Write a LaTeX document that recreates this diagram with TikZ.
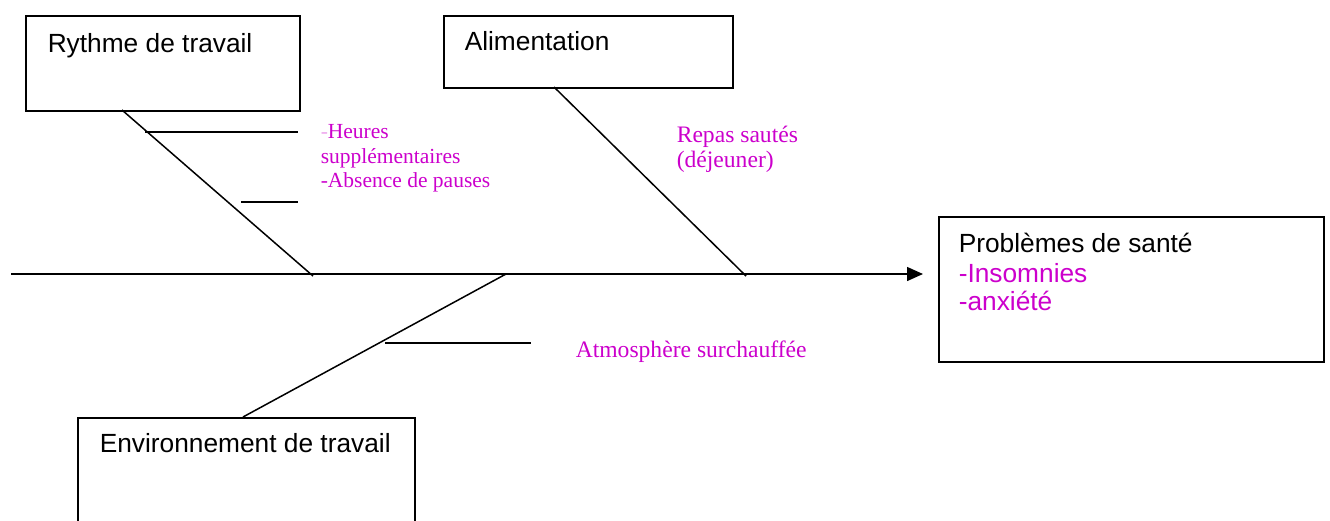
\documentclass[tikz,border=0pt]{standalone}
\usepackage{fontspec}
\setmainfont{Liberation Serif}
\newfontfamily\arialfont{Liberation Sans}
\usetikzlibrary{arrows.meta,calc}
\definecolor{pinktext}{RGB}{204,0,204}
\begin{document}
\begin{tikzpicture}[x=1pt,y=-1pt,line width=1.5pt,
  box/.style={draw,line width=1.5pt,rectangle,inner sep=0pt,anchor=north west},
  blabel/.style={anchor=base west,inner sep=0pt,font=\arialfont\fontsize{26.3}{30}\selectfont},
  plabel/.style={anchor=base west,inner sep=0pt,text=pinktext,font=\fontsize{21.5}{24.5}\selectfont},
  qlabel/.style={anchor=base west,inner sep=0pt,text=pinktext,font=\fontsize{23.6}{25}\selectfont},
  branch/.style={draw,line width=1.5pt},
]
\clip (0,0) rectangle (1330,520);
\fill[white] (0,0) rectangle (1330,520);
% boxes
\node[box,minimum width=274pt,minimum height=95pt] (rb) at (25,15) {};
\node[box,minimum width=289pt,minimum height=72pt] (ab) at (443,15) {};
\node[box,minimum width=385pt,minimum height=145pt] (pb) at (938,216) {};
\node[box,minimum width=337pt,minimum height=130pt] (eb) at (77,417) {};
% box labels
\node[blabel] (rt) at (47,52) {Rythme de travail};
\node[blabel] (at) at (464,50) {Alimentation};
\node[blabel] (pt) at (958,252) {Problèmes de santé};
\node[blabel,text=pinktext] (p1) at (958,282) {-Insomnies};
\node[blabel,text=pinktext] (p2) at (958,310) {-anxiété};
\node[blabel] (et) at (99,452) {Environnement de travail};
% cause labels
\node[plabel] (h1) at (320,138) {{\color{pinktext!35}-}Heures};
\node[plabel] (h2) at (320,163) {supplémentaires};
\node[plabel] (h3) at (320,187) {-Absence de pauses};
\node[qlabel] (r1) at (676,142) {Repas sautés};
\node[qlabel] (r2) at (676,167) {(déjeuner)};
\node[qlabel] (m1) at (575,357) {Atmosphère surchauffée};
% coordinates
\coordinate (axL) at (11,274);
\coordinate (axR) at (923,274);
\coordinate (rTop) at (122,110);
\coordinate (rBot) at (313,276);
\coordinate (aTop) at (554,87);
\coordinate (aBot) at (746,276);
\coordinate (eTop) at (506,274);
\coordinate (eBot) at (243,417);
\coordinate (t1a) at (145,132);
\coordinate (t1b) at (298,132);
\coordinate (t2a) at (241,202);
\coordinate (t2b) at (298,202);
\coordinate (t3a) at (385,343);
\coordinate (t3b) at (531,343);
% spine
\draw[-{Triangle[length=16pt,width=14pt]}] (axL) -- (axR);
% branches
\draw[branch] (rTop) -- (rBot);
\draw[branch] (aTop) -- (aBot);
\draw[branch] (eTop) -- (eBot);
% ticks
\draw[branch] (t1a) -- (t1b);
\draw[branch] (t2a) -- (t2b);
\draw[branch] (t3a) -- (t3b);
\end{tikzpicture}
\end{document}
